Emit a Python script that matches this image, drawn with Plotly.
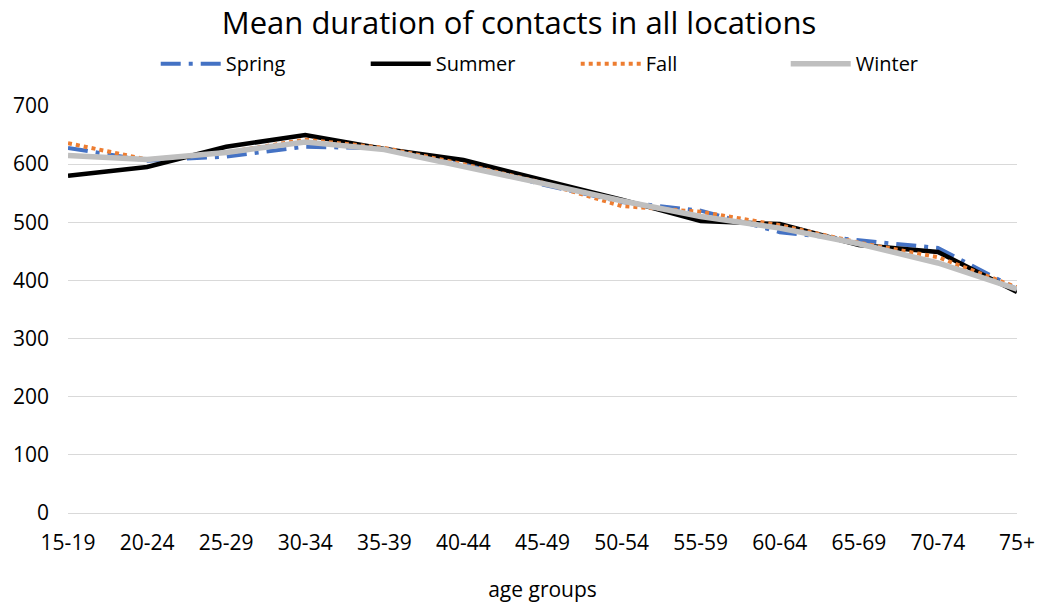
import plotly.graph_objects as go

age_groups = ["15-19", "20-24", "25-29", "30-34", "35-39", "40-44", "45-49",
              "50-54", "55-59", "60-64", "65-69", "70-74", "75+"]
spring = [628, 606, 613, 630, 627, 600, 565, 535, 520, 483, 469, 456, 385]
summer = [580, 595, 630, 650, 626, 607, 573, 539, 502, 497, 461, 449, 380]
fall = [636, 608, 620, 642, 628, 600, 568, 528, 518, 495, 465, 440, 388]
winter = [615, 608, 620, 638, 625, 597, 567, 537, 510, 490, 463, 430, 385]

fig = go.Figure()
fig.add_trace(go.Scatter(x=age_groups, y=spring, name="Spring", mode="lines",
                         line=dict(color="#4472C4", width=4, dash="longdashdot")))
fig.add_trace(go.Scatter(x=age_groups, y=summer, name="Summer", mode="lines",
                         line=dict(color="#000000", width=4.5)))
fig.add_trace(go.Scatter(x=age_groups, y=fall, name="Fall", mode="lines",
                         line=dict(color="#ED7D31", width=4, dash="dot")))
fig.add_trace(go.Scatter(x=age_groups, y=winter, name="Winter", mode="lines",
                         line=dict(color="#BFBFBF", width=5.5)))

fig.update_layout(
    width=1038, height=603,
    paper_bgcolor="white", plot_bgcolor="white",
    margin=dict(l=68, r=21, t=106, b=90),
    font=dict(family="Open Sans, Liberation Sans, sans-serif", color="#000000", size=21),
    title=dict(text="Mean duration of contacts in all locations", x=0.5, xanchor="center",
               y=0.962, yanchor="middle", font=dict(size=31)),
    legend=dict(orientation="h", x=0.535, xanchor="center", y=1.104, yanchor="middle",
                font=dict(size=20), entrywidth=135, itemwidth=60),
    xaxis=dict(type="category", range=[0, 12], showgrid=False, showline=False,
               automargin=False,
               ticks="", ticklabelstandoff=15, tickfont=dict(size=21),
               title=dict(text="age groups", font=dict(size=21), standoff=27)),
    yaxis=dict(range=[0, 700], dtick=100, showgrid=True, gridcolor="#D9D9D9", gridwidth=1,
               zeroline=True, zerolinecolor="#D9D9D9", zerolinewidth=1, showline=False,
               automargin=False,
               ticks="", ticklabelstandoff=18, tickfont=dict(size=21)),
)

fig.write_html("out.html")
